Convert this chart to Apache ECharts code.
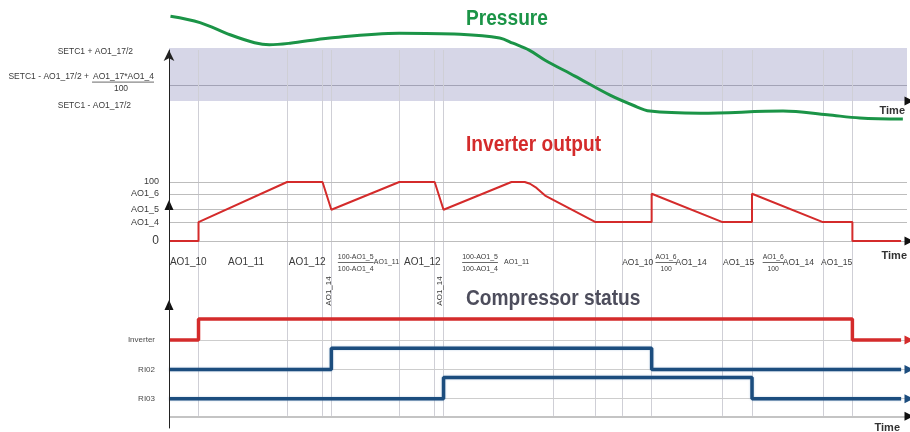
<!DOCTYPE html>
<html>
<head>
<meta charset="utf-8">
<script src="https://cdn.jsdelivr.net/npm/echarts@6/dist/echarts.min.js"></script>
<style>
  html, body { margin: 0; padding: 0; background: #ffffff; }
  #chart { width: 910px; height: 432px; }
</style>
</head>
<body>
<div id="chart"></div>
<script>
// ---- shared time axis (arbitrary units) ----
const timeMax = 250;
const eventTimes = [10, 40, 52, 55, 78, 90, 93, 130, 144.5, 153.5, 163.5, 187.5, 197.5, 221.5, 231.5];

// ---- pressure panel: 0 = SETC1 - AO1_17/2, 100 = SETC1 + AO1_17/2 ----
const bandLow = 0;
const bandHigh = 100;
const bandInner = 30;
const pressureTime  = [0.5, 10.5, 20.7, 29, 34, 41, 54.5, 78, 98.6, 112, 116.5, 122, 127.4, 137.5, 149.4, 157.2, 162.9, 180, 208, 223, 234, 248.6];
const pressureValue = [160, 148, 125, 110, 106, 109, 119, 128, 126, 119, 109, 96, 77, 47, 11, -8, -19, -23, -19, -26, -32, -34];
const bandTopLabel = 'SETC1 + AO1_17/2';
const bandInnerLabel = ['SETC1 - AO1_17/2 +', 'AO1_17*AO1_4', '100'];
const bandLowLabel = 'SETC1 - AO1_17/2';

// ---- inverter output panel (%) ----
const inverterLevels = [100, 80, 53, 32, 0];
const inverterLevelLabels = ['100', 'AO1_6', 'AO1_5', 'AO1_4', '0'];
const outputTime  = [0, 10, 10, 40, 52, 55, 78, 90, 93, 116, 120.5, 122.3, 124.5, 127.4, 144.5, 163.5, 163.5, 187.5, 197.5, 197.5, 221.5, 231.5, 231.5, 248];
const outputValue = [0, 0, 32, 100, 100, 53, 100, 100, 53, 100, 100, 97, 90, 77, 32, 32, 80, 32, 32, 80, 32, 32, 0, 0];

// phase annotations under the output curve: [text, start time]
const phaseLabels = [['AO1_10', 0.3], ['AO1_11', 20], ['AO1_12', 40.6], ['AO1_12', 79.6]];
const phaseLabelsCompact = [['AO1_10', 153.5], ['AO1_14', 171.6], ['AO1_15', 187.7], ['AO1_14', 207.9], ['AO1_15', 220.9]];
const phaseNotes = [['AO1_11', 69.4], ['AO1_11', 113.5]];
const phaseFractions = [['100-AO1_5', '100-AO1_4', 57.2], ['100-AO1_5', '100-AO1_4', 99.3]];
const phaseFractionsCompact = [['AO1_6', '100', 164.8], ['AO1_6', '100', 201.1]];
const phaseRotated = [['AO1_14', 54.2], ['AO1_14', 91.8]];

// ---- compressor status: [time, state] ----
const statusNames = ['Inverter', 'RI02', 'RI03'];
const inverterStatus = [[0, 0], [10, 1], [231.5, 0], [248, 0]];
const ri02Status = [[0, 0], [55, 1], [163.5, 0], [248, 0]];
const ri03Status = [[0, 0], [93, 1], [197.5, 0], [248, 0]];

// ---- panel titles ----
const panelTitles = ['Pressure', 'Inverter output', 'Compressor status'];

// ---- styling ----
const GREEN = '#1b9447';
const RED = '#d42b2b';
const BLUE = '#1c4d7e';
const SLATE = '#4d4d5c';
const LABEL = '#3a3a3a';
const FONT = "'Liberation Sans', Arial, sans-serif";
const ARROW_RIGHT = 'path://M0,0L10,5L0,10Z';
const STATUS_ROW = { Inverter: 3, RI02: 2, RI03: 1 };
const STATUS_RISE = 0.72;

const zip = (xs, ys) => xs.map((x, i) => [x, ys[i]]);
const toRow = (name, pts) => pts.map(([t, s]) => [t, STATUS_ROW[name] + STATUS_RISE * s]);

function hLines(values, color, width) {
  return {
    silent: true, symbol: ['none', 'none'], label: { show: false },
    lineStyle: { color: color, width: width || 1, type: 'solid' },
    data: values.map(v => ({ yAxis: v }))
  };
}
function arrow(gridIdx, point, color, symbol, size, offset) {
  return {
    type: 'scatter', xAxisIndex: gridIdx, yAxisIndex: gridIdx, z: 6, silent: true,
    symbol: symbol, symbolSize: size, symbolOffset: offset || [0, 0],
    itemStyle: { color: color, opacity: 1 }, data: [point]
  };
}
function statusLine(name, pts, color) {
  return {
    type: 'line', xAxisIndex: 2, yAxisIndex: 2, z: 5, step: 'end', showSymbol: false, silent: true,
    lineStyle: { color: color, width: 3.5, shadowColor: 'rgba(120,160,200,0.55)', shadowBlur: 2 },
    data: toRow(name, pts)
  };
}

const xAxes = [0, 1, 2, 3].map(i => ({ type: 'value', gridIndex: i, min: 0, max: timeMax, show: false }));

const option = {
  animation: false,
  backgroundColor: '#ffffff',
  grid: [
    { left: 169, width: 738, top: 10.9, height: 111.3 },
    { left: 169, width: 738, top: 123, height: 129.8 },
    { left: 169, width: 738, top: 290.3, height: 137.7 },
    { left: 169, width: 738, top: 50, height: 378 }
  ],
  xAxis: xAxes,
  yAxis: [
    { type: 'value', gridIndex: 0, min: -40, max: 170, show: false },
    {
      type: 'value', gridIndex: 1, min: -20, max: 200,
      axisLine: { show: false }, axisTick: { show: false }, splitLine: { show: false },
      axisLabel: {
        customValues: inverterLevels, margin: 10, color: LABEL, fontSize: 9, fontFamily: FONT,
        formatter: v => {
          const s = inverterLevelLabels[inverterLevels.indexOf(v)];
          return s === '0' ? '{big|0}' : s;
        },
        rich: { big: { fontSize: 12, color: LABEL, fontFamily: FONT } }
      }
    },
    {
      type: 'value', gridIndex: 2, min: 0, max: 4.7,
      axisLine: { show: false }, axisTick: { show: false }, splitLine: { show: false },
      axisLabel: {
        customValues: statusNames.map(n => STATUS_ROW[n]), margin: 14, color: '#4a4a4a', fontSize: 8, fontFamily: FONT,
        formatter: v => statusNames.find(n => STATUS_ROW[n] === v)
      }
    },
    {
      type: 'value', gridIndex: 3, min: 0, max: 1, z: 10,
      axisLine: { show: true, lineStyle: { color: '#222', width: 1 }, symbol: ['none', 'arrow'], symbolSize: [8, 11] },
      axisTick: { show: false }, axisLabel: { show: false }, splitLine: { show: false }
    }
  ],
  series: [
    // pressure band
    {
      type: 'line', xAxisIndex: 0, yAxisIndex: 0, z: 1, data: [], silent: true,
      markArea: { silent: true, itemStyle: { color: '#d6d6e7' }, data: [[{ coord: [0, bandLow] }, { coord: [timeMax, bandHigh] }]] },
      markLine: hLines([bandInner], '#a3a3b6', 1.2)
    },
    // event grid lines across all panels
    {
      type: 'line', xAxisIndex: 3, yAxisIndex: 3, z: 2, data: [], silent: true,
      markLine: {
        silent: true, symbol: ['none', 'none'], label: { show: false },
        lineStyle: { color: '#cfcfd6', width: 1, type: 'solid' },
        data: eventTimes.map(t => [{ coord: [t, 0.032] }, { coord: [t, 1] }])
      }
    },
    // pressure curve
    {
      type: 'line', xAxisIndex: 0, yAxisIndex: 0, z: 5, smooth: 0.35, showSymbol: false, silent: true,
      lineStyle: { color: GREEN, width: 3 }, data: zip(pressureTime, pressureValue)
    },
    arrow(0, [timeMax, bandLow], '#111', ARROW_RIGHT, [9, 9], [2, 0]),

    // inverter output levels
    { type: 'line', xAxisIndex: 1, yAxisIndex: 1, z: 2, data: [], silent: true, markLine: hLines(inverterLevels, '#bdbdbd', 1) },
    {
      type: 'line', xAxisIndex: 1, yAxisIndex: 1, z: 5, showSymbol: false, silent: true,
      lineStyle: { color: RED, width: 2 }, data: zip(outputTime, outputValue)
    },
    arrow(1, [timeMax, 0], '#111', ARROW_RIGHT, [9, 9], [2, 0]),
    arrow(1, [0, 61], '#111', 'triangle', [9, 10], [0, 0]),

    // compressor status rows
    { type: 'line', xAxisIndex: 2, yAxisIndex: 2, z: 2, data: [], silent: true, markLine: hLines([3, 2, 1], '#cdcdcd', 1) },
    { type: 'line', xAxisIndex: 2, yAxisIndex: 2, z: 2, data: [], silent: true, markLine: hLines([0.4], '#c4c4c4', 2) },
    {
      type: 'line', xAxisIndex: 2, yAxisIndex: 2, z: 5, step: 'end', showSymbol: false, silent: true,
      lineStyle: { color: RED, width: 3.5 }, data: toRow('Inverter', inverterStatus)
    },
    statusLine('RI02', ri02Status, BLUE),
    statusLine('RI03', ri03Status, BLUE),
    arrow(2, [timeMax, STATUS_ROW.Inverter], RED, ARROW_RIGHT, [9, 9], [2, 0]),
    arrow(2, [timeMax, STATUS_ROW.RI02], BLUE, ARROW_RIGHT, [9, 9], [2, 0]),
    arrow(2, [timeMax, STATUS_ROW.RI03], BLUE, ARROW_RIGHT, [9, 9], [2, 0]),
    arrow(2, [timeMax, 0.4], '#111', ARROW_RIGHT, [9, 9], [2, 0]),
    arrow(2, [0, 4.2], '#111', 'triangle', [9, 10], [0, 0])
  ]
};

const chart = echarts.init(document.getElementById('chart'), null, { renderer: 'canvas' });
chart.setOption(option);

// ---- text annotations anchored to the axes ----
const measure = document.createElement('canvas').getContext('2d');
function textWidth(s, size) { measure.font = size + 'px ' + FONT; return measure.measureText(s).width; }
function px(gridIndex, t, v) { return chart.convertToPixel({ gridIndex: gridIndex }, [t, v]); }
function txt(text, x, y, size, align, extra) {
  return Object.assign({
    type: 'text', x: x, y: y, silent: true, z: 20,
    style: { text: text, fill: LABEL, fontSize: size, fontFamily: FONT, align: align || 'left', verticalAlign: 'middle' }
  }, extra || {});
}
function rule(x1, x2, y) {
  return { type: 'line', silent: true, z: 20, shape: { x1: x1, y1: y, x2: x2, y2: y }, style: { stroke: '#444', lineWidth: 0.8 } };
}

const g = [];

// panel titles (bold, horizontally condensed)
const titleColors = [GREEN, RED, SLATE];
const titleRows = [19, 145, 299];
panelTitles.forEach((s, i) => {
  const e = txt(s, 466, titleRows[i], 22, 'left', { scaleX: 0.87, originX: 0, originY: 0 });
  Object.assign(e.style, { fill: titleColors[i], fontWeight: 'bold' });
  g.push(e);
});

// pressure band labels
const yTop = px(0, 0, bandHigh)[1], yIn = px(0, 0, bandInner)[1], yLow = px(0, 0, bandLow)[1];
g.push(txt(bandTopLabel, 133, yTop + 4, 8.5, 'right'));
g.push(txt(bandLowLabel, 131, yLow + 5, 8.5, 'right'));
g.push(txt(bandInnerLabel[0], 89, yIn - 8, 8.5, 'right'));
g.push(txt(bandInnerLabel[1], 154, yIn - 8, 8.5, 'right'));
g.push(rule(154 - textWidth(bandInnerLabel[1], 8.5) - 1, 154, yIn - 3));
g.push(txt(bandInnerLabel[2], 121, yIn + 4, 8.5, 'center'));

// phase labels under the output curve
const y0 = px(1, 0, 0)[1];
phaseLabels.forEach(([s, t]) => g.push(txt(s, px(1, t, 0)[0], y0 + 21, 10, 'left')));
phaseLabelsCompact.forEach(([s, t]) => g.push(txt(s, px(1, t, 0)[0], y0 + 22, 8.5, 'left')));
phaseNotes.forEach(([s, t]) => g.push(txt(s, px(1, t, 0)[0], y0 + 21, 7, 'left')));
function fraction(num, den, t, size) {
  const x = px(1, t, 0)[0];
  const w = Math.max(textWidth(num, size), textWidth(den, size));
  g.push(txt(num, x + w / 2, y0 + 16, size, 'center'));
  g.push(rule(x, x + w, y0 + 21.5));
  g.push(txt(den, x + w / 2, y0 + 28, size, 'center'));
}
phaseFractions.forEach(([num, den, t]) => fraction(num, den, t, 7));
phaseFractionsCompact.forEach(([num, den, t]) => fraction(num, den, t, 6.8));
phaseRotated.forEach(([s, t]) => g.push(txt(s, px(1, t, 0)[0], y0 + 50, 8, 'center', { rotation: Math.PI / 2 })));

// "Time" captions at the end of each time axis
const tP = px(0, timeMax, bandLow), tI = px(1, timeMax, 0), tC = px(2, timeMax, 0.4);
[[tP, 10, 905], [tI, 15, 907], [tC, 12, 900]].forEach(([p, dy, xr]) => {
  const e = txt('Time', xr, p[1] + dy, 11, 'right');
  Object.assign(e.style, { fontWeight: 'bold', fill: '#333' });
  g.push(e);
});

chart.setOption({ graphic: { elements: g } });
</script>
</body>
</html>
